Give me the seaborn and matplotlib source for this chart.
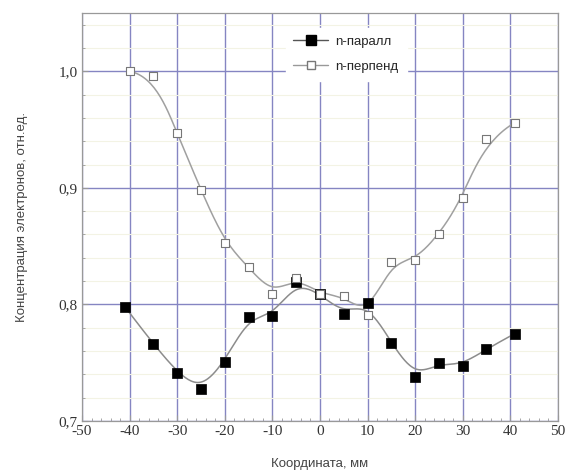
import numpy as np
import pandas as pd
import matplotlib
matplotlib.use("Agg")
import matplotlib.pyplot as plt
import seaborn as sns
from matplotlib.ticker import MultipleLocator, FuncFormatter
from matplotlib.lines import Line2D

x_par = [-41, -35, -30, -25, -20, -15, -10, -5, 0, 5, 10, 15, 20, 25, 30, 35, 41]
y_par = [0.798, 0.766, 0.741, 0.727, 0.751, 0.789, 0.790, 0.819, 0.809, 0.792,
         0.801, 0.767, 0.738, 0.750, 0.747, 0.762, 0.775]
x_perp = [-40, -35, -30, -25, -20, -15, -10, -5, 0, 5, 10, 15, 20, 25, 30, 35, 41]
y_perp = [1.000, 0.996, 0.947, 0.898, 0.853, 0.832, 0.809, 0.823, 0.809, 0.807,
          0.791, 0.836, 0.838, 0.860, 0.891, 0.942, 0.956]
label_par = "n-паралл"
label_perp = "n-перпенд"


def bspline(xs, ys, n=400, k=3):
    P = np.column_stack([xs, ys]).astype(float)
    m = len(P)
    knots = np.concatenate([np.zeros(k), np.linspace(0, 1, m - k + 1), np.ones(k)])
    ts = np.linspace(0, 1, n)
    ts[-1] = 1 - 1e-9
    out = []
    for t in ts:
        s = np.searchsorted(knots, t, side="right") - 1
        s = min(max(s, k), m - 1)
        d = [P[j + s - k].copy() for j in range(k + 1)]
        for r in range(1, k + 1):
            for j in range(k, r - 1, -1):
                i = j + s - k
                a = (t - knots[i]) / (knots[i + k + 1 - r] - knots[i])
                d[j] = (1 - a) * d[j - 1] + a * d[j]
        out.append(d[k])
    return np.array(out)


sns.set_style("white")
fig = plt.figure(figsize=(5.71, 4.73), dpi=100)
ax = fig.add_axes([0.1436, 0.110, 0.8334, 0.8625])

grid_c = "#8585c2"
ax.set_xlim(-50, 50)
ax.set_ylim(0.7, 1.05)
ax.xaxis.set_major_locator(MultipleLocator(10))
ax.xaxis.set_minor_locator(MultipleLocator(2))
ax.yaxis.set_major_locator(MultipleLocator(0.1))
ax.yaxis.set_minor_locator(MultipleLocator(0.02))
ax.grid(True, which="major", color=grid_c, lw=1.0)
ax.grid(True, which="minor", axis="y", color="#f3f3e4", lw=0.8)
ax.set_axisbelow(True)

sp = bspline(x_par, y_par)
sq = bspline(x_perp, y_perp)
sns.lineplot(x=sp[:, 0], y=sp[:, 1], ax=ax, color="#8c8c8c", lw=1.1, sort=False, estimator=None)
sns.lineplot(x=sq[:, 0], y=sq[:, 1], ax=ax, color="#a0a0a0", lw=1.1, sort=False, estimator=None)

sns.scatterplot(x=x_par, y=y_par, ax=ax, marker="s", s=44, color="black",
                edgecolor="black", linewidth=0.5, zorder=5)
sns.scatterplot(x=x_perp, y=y_perp, ax=ax, marker="s", s=30, facecolor="white",
                edgecolor="#777777", linewidth=0.8, zorder=5)

fmt = lambda v, p: f"{v:.1f}".replace(".", ",")
ax.yaxis.set_major_formatter(FuncFormatter(fmt))
ax.xaxis.set_major_formatter(FuncFormatter(lambda v, p: f"{v:.0f}"))
for lab in ax.get_xticklabels() + ax.get_yticklabels():
    lab.set_family("Liberation Serif")
    lab.set_fontsize(11)
    lab.set_color("#333333")
ax.tick_params(which="major", direction="in", length=4, color="#999999", pad=3)
ax.tick_params(which="minor", direction="in", length=2, color="#999999")
ax.tick_params(axis="x", which="both", bottom=True, top=False)
ax.tick_params(axis="y", which="both", left=True, right=False)
for s in ax.spines.values():
    s.set_color("#999999")
    s.set_linewidth(0.9)

ax.set_xlabel("Координата, мм", family="Liberation Sans", fontsize=9.5, color="#444444", labelpad=14)
ax.set_ylabel("Концентрация электронов, отн.ед.", family="Liberation Sans", fontsize=9.5,
              color="#444444", labelpad=22)

handles = [
    Line2D([], [], color="#555555", lw=1, marker="s", markersize=6.5,
           markerfacecolor="black", markeredgecolor="black"),
    Line2D([], [], color="#999999", lw=1, marker="s", markersize=5.5,
           markerfacecolor="white", markeredgecolor="#777777"),
]
leg = ax.legend(handles, [label_par, label_perp], loc="upper center",
                bbox_to_anchor=(0.555, 0.98), frameon=True, framealpha=1,
                edgecolor="white", fancybox=False, prop={"family": "Liberation Sans", "size": 9.5},
                handlelength=2.6, labelspacing=0.95, borderpad=0.6, handletextpad=0.6)

fig.savefig("out.png", dpi=100)
